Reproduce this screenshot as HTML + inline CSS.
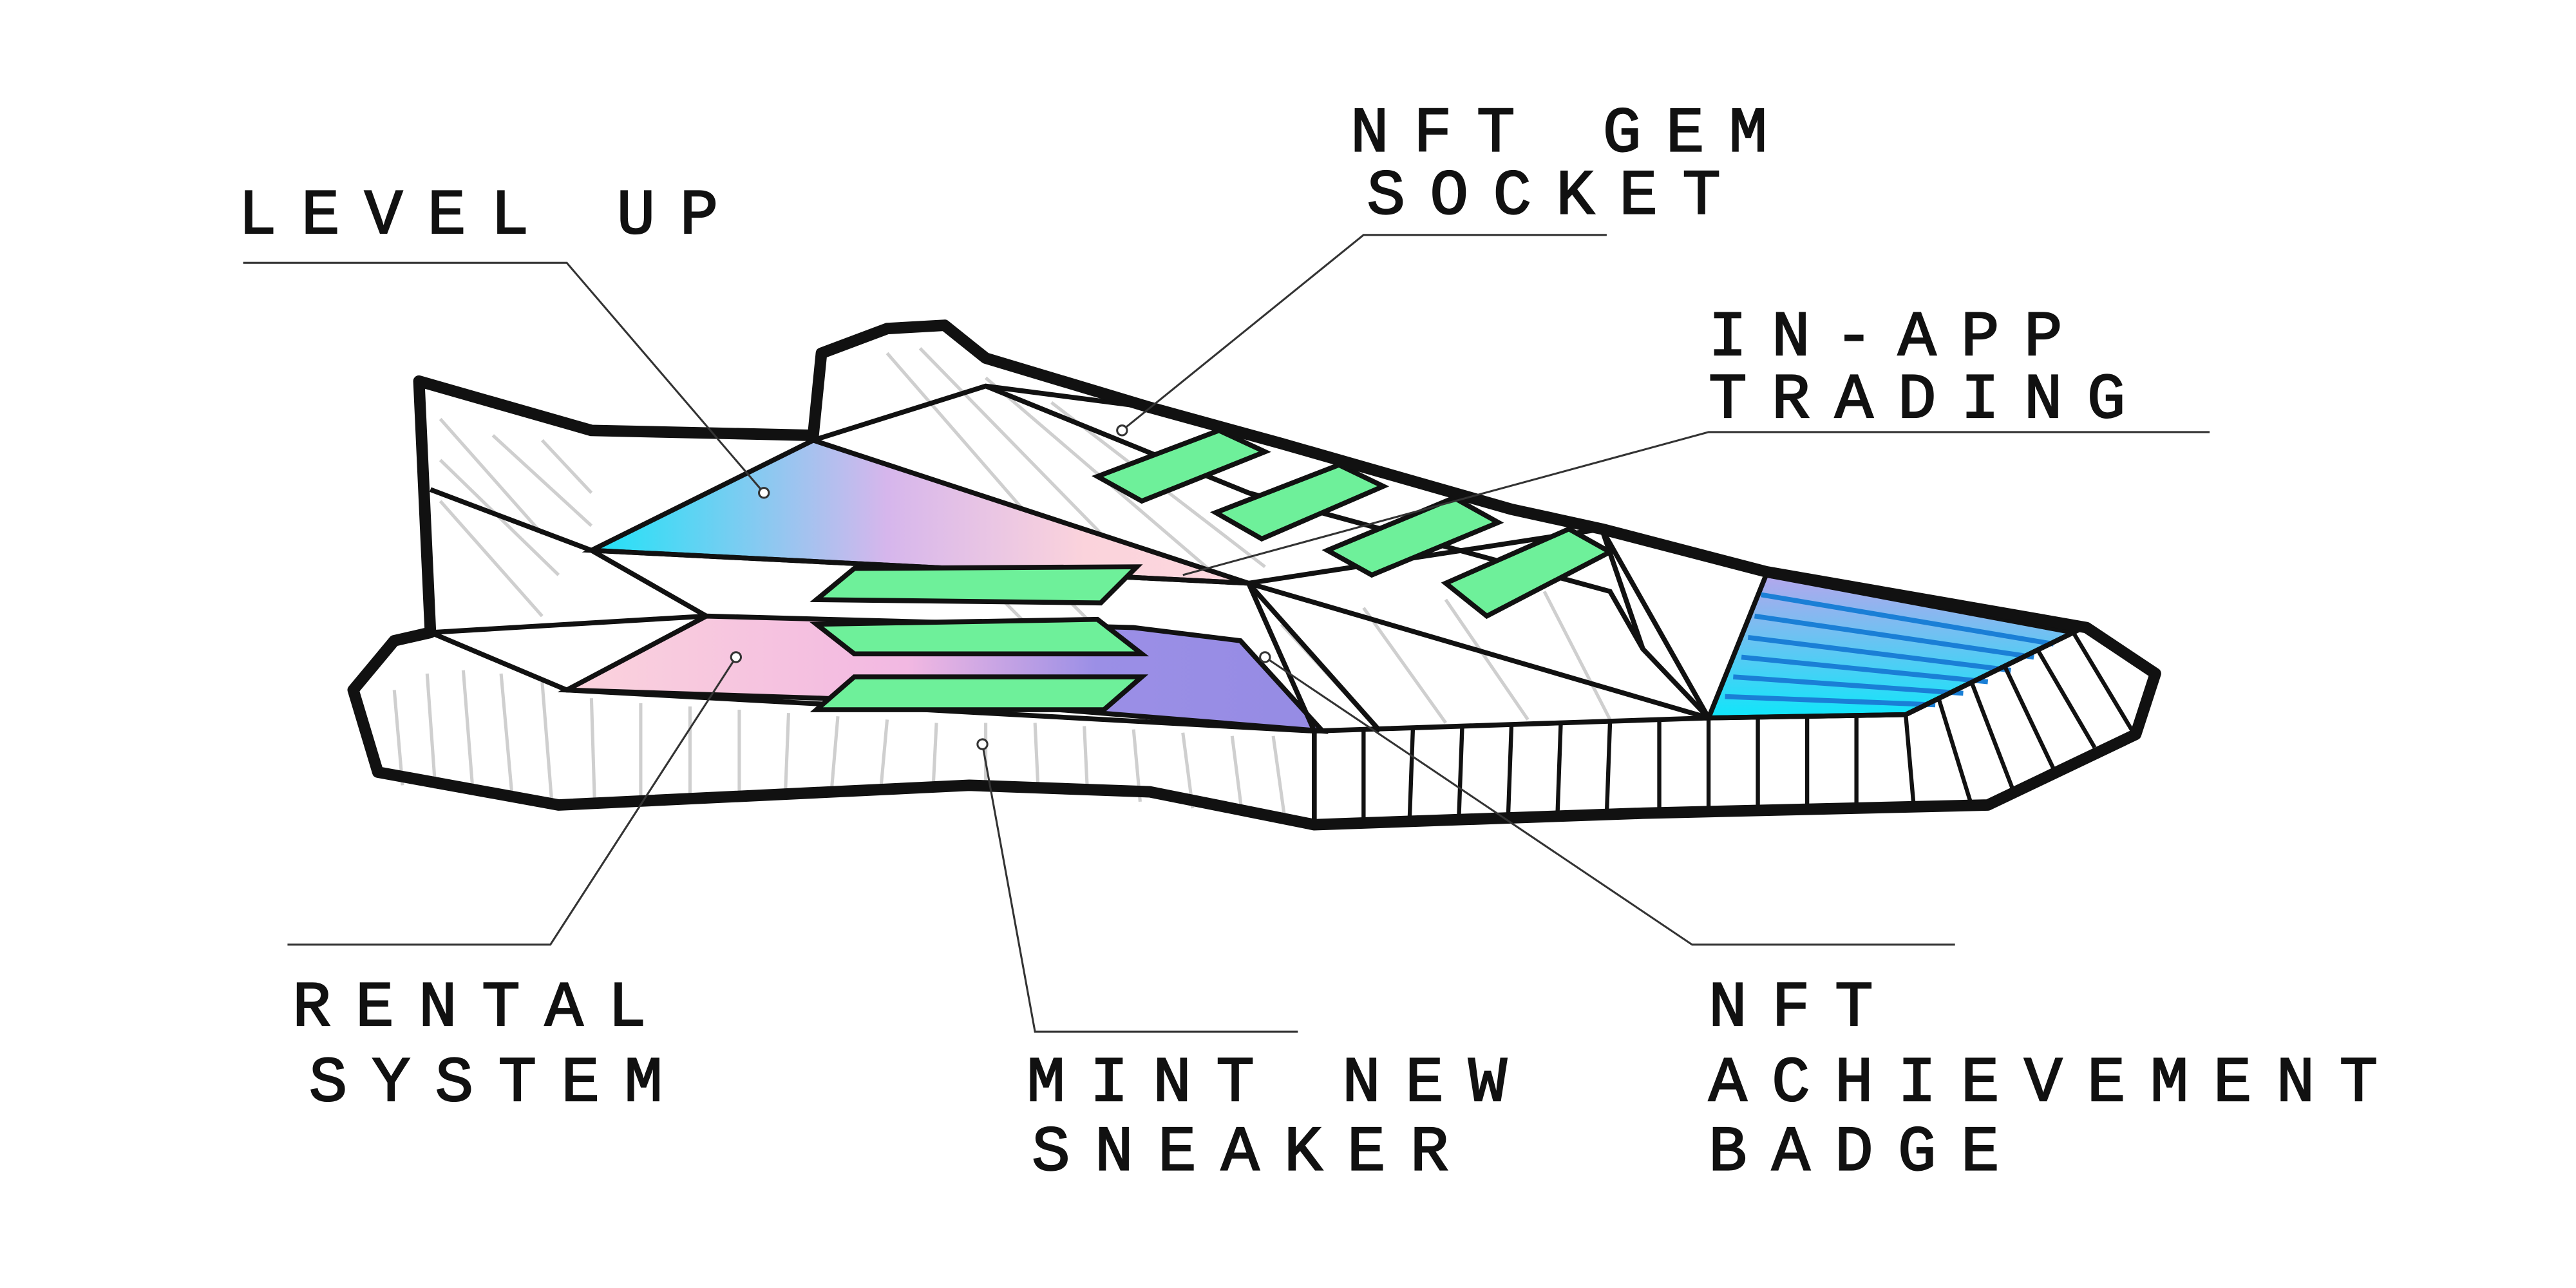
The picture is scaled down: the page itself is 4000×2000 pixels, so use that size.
<!DOCTYPE html>
<html><head><meta charset="utf-8"><style>
html,body{margin:0;padding:0;background:#fff;width:4000px;height:2000px;overflow:hidden}
svg{display:block}
text{font-family:"Liberation Mono","DejaVu Sans Mono",monospace;font-size:39px;fill:#111;stroke:#111;stroke-width:0.9;letter-spacing:15px}
</style></head><body>
<svg width="4000" height="2000" viewBox="0 0 1568 784" preserveAspectRatio="none" xmlns="http://www.w3.org/2000/svg">
<defs>
<linearGradient id="gUp" x1="0" x2="1" y1="0" y2="0"><stop offset="0" stop-color="#1ee3f7"/><stop offset="0.45" stop-color="#d6b6ec"/><stop offset="0.75" stop-color="#fbd3dc"/><stop offset="1" stop-color="#fcd8de"/></linearGradient>
<linearGradient id="gRent" x1="0" x2="1" y1="0" y2="0"><stop offset="0" stop-color="#fbd3dc"/><stop offset="0.45" stop-color="#f2b8e2"/><stop offset="0.7" stop-color="#9b8fe6"/><stop offset="1" stop-color="#958be4"/></linearGradient>
<linearGradient id="gToe" x1="0" x2="0" y1="0" y2="1"><stop offset="0" stop-color="#b5a6ec"/><stop offset="1" stop-color="#0fe6fa"/></linearGradient>
</defs>
<rect width="1568" height="784" fill="#fff"/>
<g>
<polygon points="255,232 360,262 495,265 500,215 540,200 575,198 600,218 700,248 780,270 850,290 920,310 975,322 1075,348 1270,382 1312,410 1300,447 1210,490 1000,495 800,502 700,482 590,478 340,490 230,470 215,420 240,390 262,385" fill="#fff" stroke="none"/>
<g stroke="#cfcfcf" stroke-width="2" fill="none">
<path d="M268,255 L330,325 M268,280 L340,350 M268,305 L330,375 M300,265 L360,320 M330,268 L360,300 M540,215 L640,330 M560,212 L690,345 M600,230 L740,350 M640,245 L770,345 M240,420 L245,478 M260,410 L265,480 M282,408 L288,484 M305,410 L312,488 M330,415 L336,490 M360,425 L362,490 M390,428 L390,488 M420,430 L420,486 M450,432 L450,485 M480,434 L478,484 M510,436 L506,483 M540,438 L536,482 M570,440 L568,480 M600,440 L600,480 M630,440 L632,482 M660,442 L662,484 M690,444 L694,488 M720,446 L726,492 M750,448 L756,495 M775,448 L782,498"/>
<path d="M780,380 L840,445 M830,370 L880,440 M880,365 L930,438 M940,360 L980,438 M600,355 L640,395 M640,355 L680,395"/>
</g>
<polygon points="360,335 495,268 760,355" fill="url(#gUp)" stroke="#111" stroke-width="3"/>
<polygon points="345,420 430,375 690,382 755,390 805,445 620,430 500,425" fill="url(#gRent)" stroke="#111" stroke-width="3"/>
<polygon points="1075,350 1262,385 1160,435 1040,437" fill="url(#gToe)" stroke="#111" stroke-width="3"/>
<g stroke="#1a7fd6" stroke-width="3">
<line x1="1072" y1="362" x2="1250" y2="392"/><line x1="1068" y1="375" x2="1238" y2="400"/><line x1="1064" y1="388" x2="1224" y2="408"/><line x1="1060" y1="400" x2="1210" y2="415"/><line x1="1055" y1="412" x2="1195" y2="422"/><line x1="1050" y1="424" x2="1178" y2="429"/>
</g>
<g stroke="#111" stroke-width="3" fill="none">
<path d="M262,385 L345,420 L800,445 L1040,437 L1160,435 L1262,385"/>
<path d="M262,298 L360,335 L430,375 L262,385"/>
<path d="M360,335 L760,355 L800,445"/>
<path d="M495,268 L600,235 L700,248"/>
<path d="M600,235 L760,300 L980,360 L1000,395 L1040,437"/>
<path d="M760,355 L1040,437 M760,355 L840,445 M975,322 L1040,437 M975,322 L1000,395"/>
<path d="M760,355 L975,322"/>
<path d="M800,445 L800,500"/>
</g>
<g stroke="#111" stroke-width="2.5">
<line x1="830" y1="445" x2="830" y2="500"/><line x1="860" y1="444" x2="858" y2="499"/><line x1="890" y1="443" x2="888" y2="498"/><line x1="920" y1="442" x2="918" y2="497"/><line x1="950" y1="441" x2="948" y2="497"/><line x1="980" y1="440" x2="978" y2="496"/><line x1="1010" y1="439" x2="1010" y2="495"/><line x1="1040" y1="438" x2="1040" y2="495"/><line x1="1070" y1="437" x2="1070" y2="494"/><line x1="1100" y1="437" x2="1100" y2="494"/><line x1="1130" y1="436" x2="1130" y2="493"/><line x1="1160" y1="435" x2="1165" y2="492"/><line x1="1180" y1="425" x2="1200" y2="490"/><line x1="1200" y1="415" x2="1225" y2="480"/><line x1="1220" y1="405" x2="1250" y2="468"/><line x1="1240" y1="395" x2="1275" y2="455"/><line x1="1262" y1="385" x2="1298" y2="445"/>
</g>
<g fill="#6ef09a" stroke="#111" stroke-width="3">
<polygon points="668,290 742,262 770,275 695,305"/>
<polygon points="740,312 815,283 842,296 768,328"/>
<polygon points="808,335 885,303 912,318 835,350"/>
<polygon points="880,355 955,322 980,336 905,375"/>
<polygon points="497,365 520,346 692,345 670,367"/>
<polygon points="497,380 520,398 695,398 668,377"/>
<polygon points="497,432 520,412 695,412 672,432"/>
</g>
<polygon points="255,232 360,262 495,265 500,215 540,200 575,198 600,218 700,248 780,270 850,290 920,310 975,322 1075,348 1270,382 1312,410 1300,447 1210,490 1000,495 800,502 700,482 590,478 340,490 230,470 215,420 240,390 262,385" fill="none" stroke="#111" stroke-width="7" stroke-linejoin="round"/>
</g>
<g stroke="#333" stroke-width="1.2" fill="none">
<path d="M148,160 L345,160 L465,300"/>
<path d="M978,143 L830,143 L683,262"/>
<path d="M1345,263 L1040,263 L720,350"/>
<path d="M175,575 L335,575 L448,400"/>
<path d="M790,628 L630,628 L598,453"/>
<path d="M1190,575 L1030,575 L770,400"/>
</g>
<g fill="#fff" stroke="#333" stroke-width="1.2">
<circle cx="465" cy="300" r="3"/><circle cx="683" cy="262" r="3"/><circle cx="448" cy="400" r="3"/><circle cx="598" cy="453" r="3"/><circle cx="770" cy="400" r="3"/>
</g>
<g>
<text x="145" y="142">LEVEL UP</text>
<text x="822" y="92">NFT GEM</text>
<text x="832" y="130">SOCKET</text>
<text x="1040" y="216">IN-APP</text>
<text x="1040" y="254">TRADING</text>
<text x="178" y="624">RENTAL</text>
<text x="188" y="670">SYSTEM</text>
<text x="625" y="670">MINT NEW</text>
<text x="628" y="712">SNEAKER</text>
<text x="1040" y="624">NFT</text>
<text x="1040" y="670">ACHIEVEMENT</text>
<text x="1040" y="712">BADGE</text>
</g>
</svg>
</body></html>
